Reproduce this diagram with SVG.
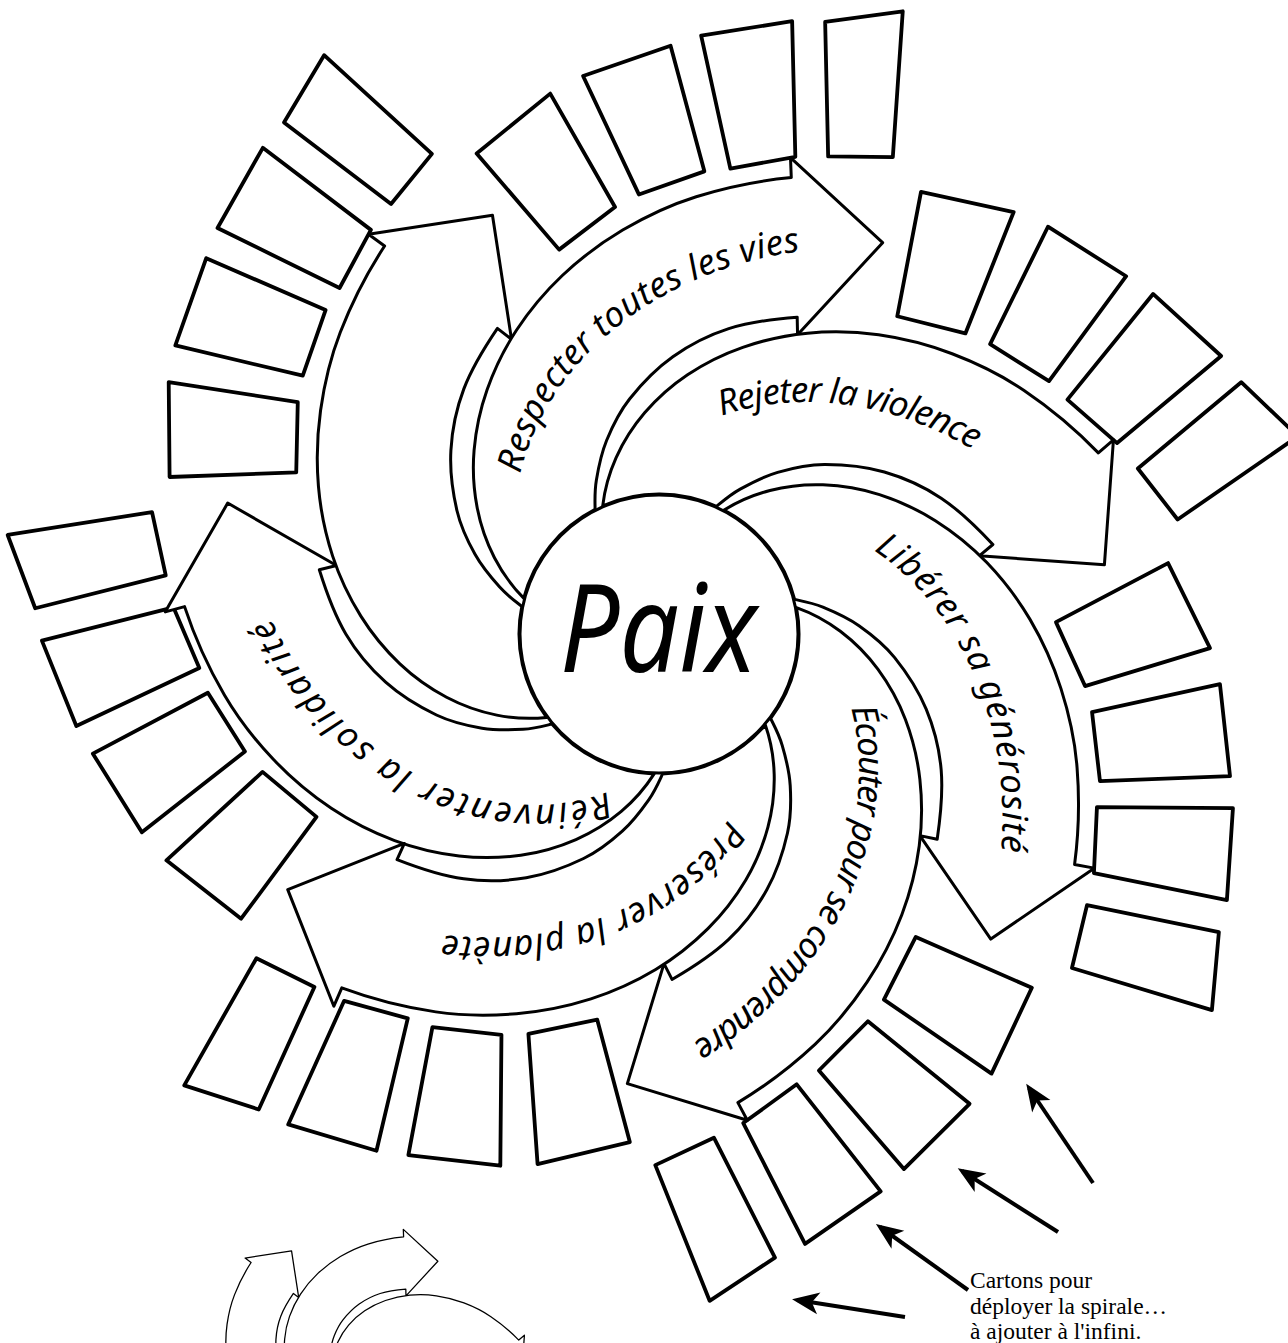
<svg xmlns="http://www.w3.org/2000/svg" xmlns:xlink="http://www.w3.org/1999/xlink" width="1288" height="1343" viewBox="0 0 1288 1343">
<style>
  .arrow { fill:#fff; stroke:#000; stroke-width:3; stroke-linejoin:round; }
  .mini { fill:#fff; stroke:#000; stroke-width:3.4; stroke-linejoin:round; }
  .card { fill:#fff; stroke:#000; stroke-width:3.8; stroke-linejoin:round; }
  .lbl { font-family:"Noto Sans","DejaVu Sans",sans-serif; font-style:italic; font-size:35px; fill:#000; }
  .paix { font-family:"Noto Sans","DejaVu Sans",sans-serif; font-style:italic; font-size:122px; fill:#000; }
  .note { font-family:"Liberation Serif","DejaVu Serif",serif; font-size:23.5px; fill:#000; }
  .pointer { stroke:#000; stroke-width:4; fill:none; marker-end:url(#ah); }
</style>
<defs>
  <path id="arrowShape" d="M140,0 C153.8,8.1 167.2,18.9 178.6,31.5 C190.0,44.1 200.4,59.3 208.3,75.8 C216.2,92.3 222.5,111.0 225.9,130.4 C229.3,149.8 230.5,170.9 228.8,192.0 C227.1,213.1 222.9,235.4 215.7,257.0 C208.5,278.6 198.4,300.7 185.6,321.4 C172.8,342.1 156.9,362.6 138.7,381.1 C120.5,399.6 101.1,416.5 76.2,432.2 C51.3,447.9 18.0,464.5 -10.8,475.1 L-4.9,494.2 L-115.8,435.6 L-57.2,324.7 L-52.3,341.7 C-34.9,335.6 -7.4,324.7 10.9,313.0 C29.2,301.3 44.7,287.1 57.7,271.5 C70.7,255.9 81.6,235.9 88.7,219.6 C95.8,203.3 98.4,188.1 100.3,173.6 C102.2,159.1 101.1,144.2 100.0,132.6 C98.9,121.0 95.8,111.5 93.7,104.0 A140,140 0 0 0 140,0 Z"/>
  <path id="textArc" fill="none" d="M140.2,12.3 C146.6,21.1 152.8,31.1 157.8,42.3 C162.8,53.5 167.3,66.0 170.2,79.4 C173.1,92.8 175.1,107.5 175.2,122.7 C175.3,137.9 174.2,154.3 170.9,170.9 C167.6,187.5 162.8,205.0 155.6,222.2 C148.4,239.4 139.3,257.2 127.8,274.1 C116.3,291.0 102.7,308.2 86.8,323.9 C70.9,339.6 52.7,355.0 32.3,368.5 C11.9,382.0 -10.9,394.6 -35.4,404.7 C-59.9,414.8 -86.7,423.3 -114.9,428.9"/>
  <polygon id="c1" points="195.1,345.9 299.5,417.7 243.7,494.4 152,401.4"/>
  <polygon id="c2" points="132.2,419.7 216.5,519.9 139.7,571.6 74.8,458.8"/>
  <polygon id="c3" points="50.4,468.2 112.7,589.1 28.5,626.5 -9.4,496.2"/>
  <polygon id="c4" points="-41,505 -3.6,634.3 -75.9,664.4 -103.7,520.9"/>
  <marker id="ah" viewBox="-26 -13 32 26" markerWidth="32" markerHeight="26" refX="0" refY="0" orient="auto" markerUnits="userSpaceOnUse">
    <path d="M5,0 L-22,-11 L-15,0 L-22,11 Z" fill="#000"/>
  </marker>
</defs>
<rect width="1288" height="1343" fill="#fff"/>

<!-- cards -->
<g id="cards-reinventer" transform="translate(669,634) rotate(92)">
  <use id="card-0-1" href="#c1" class="card"/><use id="card-0-2" href="#c2" class="card"/><use id="card-0-3" href="#c3" class="card"/><use id="card-0-4" href="#c4" class="card"/>
</g>
<g id="cards-blank" transform="translate(659,634) rotate(143.43)">
  <use id="card-1-1" href="#c1" class="card"/><use id="card-1-2" href="#c2" class="card"/><use id="card-1-3" href="#c3" class="card"/><use id="card-1-4" href="#c4" class="card"/>
</g>
<g id="cards-respecter" transform="translate(659,634) rotate(194.86)">
  <use id="card-2-1" href="#c1" class="card"/><use id="card-2-2" href="#c2" class="card"/><use id="card-2-3" href="#c3" class="card"/><use id="card-2-4" href="#c4" class="card"/>
</g>
<g id="cards-rejeter" transform="translate(659,634) rotate(246.29)">
  <use id="card-3-1" href="#c1" class="card"/><use id="card-3-2" href="#c2" class="card"/><use id="card-3-3" href="#c3" class="card"/><use id="card-3-4" href="#c4" class="card"/>
</g>
<g id="cards-liberer" transform="translate(659,634) rotate(297.71)">
  <use id="card-4-1" href="#c1" class="card"/><use id="card-4-2" href="#c2" class="card"/><use id="card-4-3" href="#c3" class="card"/><use id="card-4-4" href="#c4" class="card"/>
</g>
<g id="cards-ecouter" transform="translate(659,634) rotate(349.14)">
  <use id="card-5-1" href="#c1" class="card"/><use id="card-5-2" href="#c2" class="card"/><use id="card-5-3" href="#c3" class="card"/><use id="card-5-4" href="#c4" class="card"/>
</g>
<g id="cards-preserver" transform="translate(674,630) rotate(40.57)">
  <use id="card-6-1" href="#c1" class="card"/><use id="card-6-2" href="#c2" class="card"/><use id="card-6-3" href="#c3" class="card"/><use id="card-6-4" href="#c4" class="card"/>
</g>

<!-- spiral arrows -->
<g id="arrow-reinventer" transform="translate(659,634) rotate(92)">
  <use href="#arrowShape" class="arrow"/>
  <text class="lbl"><textPath href="#textArc" startOffset="39" textLength="415">Réinventer la solidarité</textPath></text>
</g>
<g id="arrow-blank" transform="translate(659,634) rotate(143.43)">
  <use href="#arrowShape" class="arrow"/>
</g>
<g id="arrow-respecter" transform="translate(659,634) rotate(194.86)">
  <use href="#arrowShape" class="arrow"/>
  <text class="lbl"><textPath href="#textArc" startOffset="114" textLength="380">Respecter toutes les vies</textPath></text>
</g>
<g id="arrow-rejeter" transform="translate(659,634) rotate(246.29)">
  <use href="#arrowShape" class="arrow"/>
  <text class="lbl"><textPath href="#textArc" startOffset="140" textLength="262">Rejeter la violence</textPath></text>
</g>
<g id="arrow-liberer" transform="translate(659,634) rotate(297.71)">
  <use href="#arrowShape" class="arrow"/>
  <text class="lbl"><textPath href="#textArc" startOffset="146" textLength="343">Libérer sa générosité</textPath></text>
</g>
<g id="arrow-ecouter" transform="translate(659,634) rotate(349.14)">
  <use href="#arrowShape" class="arrow"/>
  <text class="lbl"><textPath href="#textArc" startOffset="104" textLength="397">Écouter pour se comprendre</textPath></text>
</g>
<g id="arrow-preserver" transform="translate(659,634) rotate(40.57)">
  <use href="#arrowShape" class="arrow"/>
  <text class="lbl"><textPath href="#textArc" startOffset="91" textLength="324">Préserver la planète</textPath></text>
</g>

<!-- centre -->
<g id="paix">
  <circle cx="659" cy="634" r="139" fill="#fff" stroke="#000" stroke-width="3"/>
  <text class="paix" x="560" y="672" textLength="197" lengthAdjust="spacingAndGlyphs">Paix</text>
</g>

<!-- miniature spiral -->
<g id="mini-spiral" transform="translate(354,1408) scale(0.375)">
  <use href="#arrowShape" class="mini" transform="rotate(92)"/>
  <use href="#arrowShape" class="mini" transform="rotate(143.43)"/>
  <use href="#arrowShape" class="mini" transform="rotate(194.86)"/>
  <use href="#arrowShape" class="mini" transform="rotate(246.29)"/>
  <use href="#arrowShape" class="mini" transform="rotate(297.71)"/>
  <use href="#arrowShape" class="mini" transform="rotate(349.14)"/>
  <use href="#arrowShape" class="mini" transform="rotate(40.57)"/>
</g>

<!-- pointers -->
<g id="connectors">
  <line class="pointer" x1="1093" y1="1183" x2="1029" y2="1088"/>
  <line class="pointer" x1="1058" y1="1232" x2="962" y2="1171"/>
  <line class="pointer" x1="968" y1="1290" x2="880" y2="1227"/>
  <line class="pointer" x1="905" y1="1317" x2="797" y2="1300"/>
</g>

<g id="note">
  <text class="note" x="970" y="1288">Cartons pour</text>
  <text class="note" x="970" y="1314">déployer la spirale…</text>
  <text class="note" x="970" y="1339">à ajouter à l'infini.</text>
</g>
</svg>
